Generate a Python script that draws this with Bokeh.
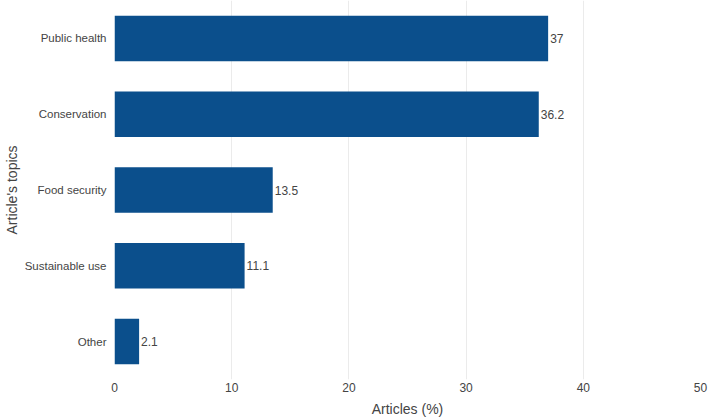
from bokeh.plotting import figure
from bokeh.models import ColumnDataSource, FactorRange, Range1d, FixedTicker
from bokeh.embed import file_html
from bokeh.resources import INLINE

topics = ["Public health", "Conservation", "Food security", "Sustainable use", "Other"]
shares = [37, 36.2, 13.5, 11.1, 2.1]
share_labels = ["37", "36.2", "13.5", "11.1", "2.1"]
x_ticks = [0, 10, 20, 30, 40, 50]

BAR = "#0b4f8c"
TXT = "#444444"
FONT = "Liberation Sans"

src = ColumnDataSource(dict(topic=topics, share=shares, label=share_labels))

p = figure(
    width=708, height=419,
    y_range=FactorRange(factors=list(reversed(topics))),
    x_range=Range1d(0, 50),
    output_backend="svg", toolbar_location=None,
    min_border_left=100, min_border_right=8, min_border_top=0, min_border_bottom=0,
)
p.outline_line_color = None

p.hbar(y="topic", right="share", left=0, height=0.6, source=src,
       fill_color=BAR, line_color=None)
p.text(x="share", y="topic", text="label", source=src, x_offset=2,
       text_align="left", text_baseline="middle", text_font_size="12px",
       text_color=TXT, text_font={"value": FONT})

p.xaxis.ticker = FixedTicker(ticks=x_ticks)
p.xaxis.axis_label = "Articles (%)"
p.yaxis.axis_label = "Article's topics"
for ax in (p.xaxis[0], p.yaxis[0]):
    ax.axis_line_color = None
    ax.major_tick_line_color = None
    ax.minor_tick_line_color = None
    ax.major_tick_out = 0
    ax.major_tick_in = 0
    ax.minor_tick_out = 0
    ax.minor_tick_in = 0
    ax.major_label_text_font = FONT
    ax.major_label_text_font_size = "12px"
    ax.major_label_text_color = TXT
    ax.axis_label_text_font = FONT
    ax.axis_label_text_font_size = "14px"
    ax.axis_label_text_font_style = "normal"
    ax.axis_label_text_color = TXT
p.yaxis.major_label_text_font_size = "11.5px"
p.xaxis.major_label_standoff = 3
p.xaxis.axis_label_standoff = 6
p.yaxis.major_label_standoff = 8
p.yaxis.axis_label_standoff = 2

p.xgrid.grid_line_color = "#ebebeb"
p.xgrid.grid_line_width = 1
p.ygrid.grid_line_color = None

open("out.html", "w").write(file_html(p, INLINE))
